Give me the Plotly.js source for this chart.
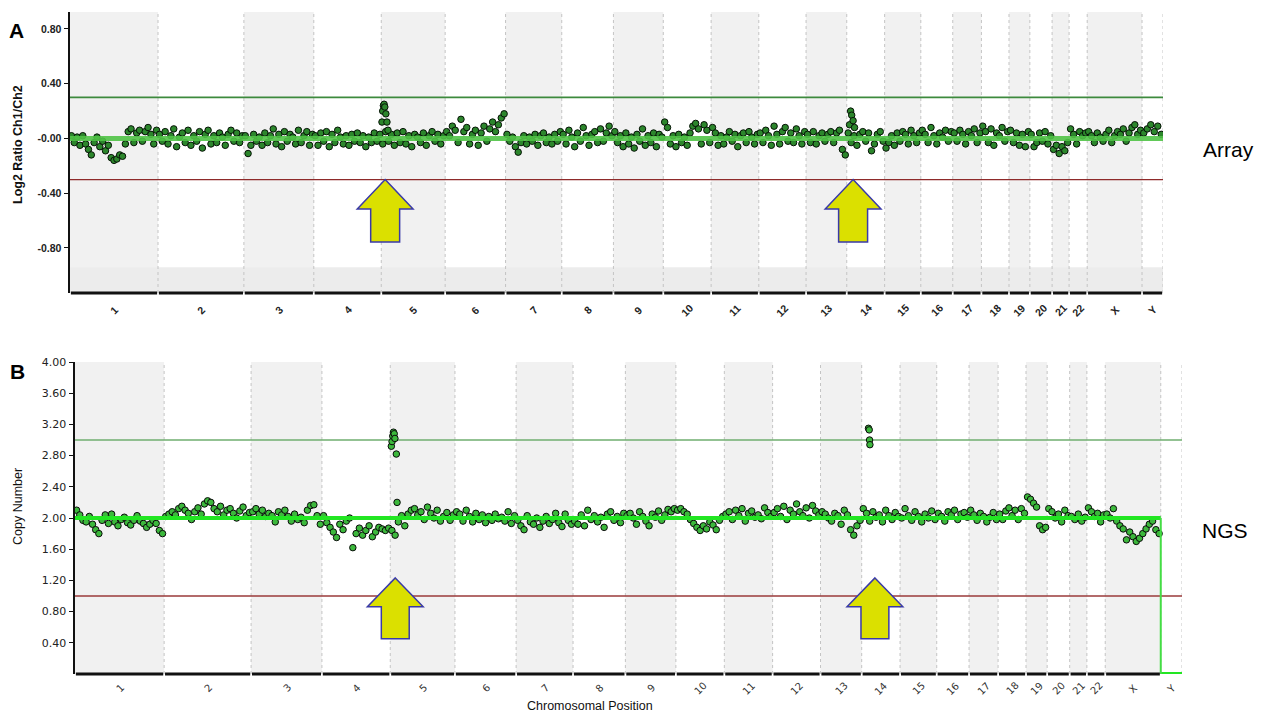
<!DOCTYPE html>
<html><head><meta charset="utf-8">
<script src="https://cdn.plot.ly/plotly-3.0.1.min.js"></script>
<style>html,body{margin:0;padding:0;background:#fff;} #chart{width:1265px;height:715px;}</style>
</head><body><div id="chart"></div>
<script>
// ---------- chromosomes ----------
const chrNames = ['1','2','3','4','5','6','7','8','9','10','11','12','13','14','15','16','17','18','19','20','21','22','X','Y'];
const chrLenMb = [249.25,243.2,198.0,191.15,180.9,171.1,159.1,146.4,141.2,135.5,135.0,133.9,115.2,107.3,102.5,90.4,81.2,78.1,59.1,63.0,48.1,51.3,155.3,59.4];

// ---------- Panel A: array log2 ratios (ordered probes per chromosome) ----------
const arr1 = [0.02,-0.03,0.01,-0.05,0.02,-0.04,-0.08,-0.12,-0.03,0.01,-0.06,-0.02,-0.09,-0.05,-0.14,-0.16,-0.15,-0.12,-0.13,-0.04,0.05,0.07,-0.03,0.04,0.06,-0.02,0.05,0.08,0.03,-0.04,0.06];
const arr2 = [0.03,-0.02,0.05,-0.04,0.02,0.07,-0.06,0.01,0.04,-0.03,0.06,-0.05,0.02,-0.02,0.05,-0.07,0.03,0.06,-0.04,0.02,-0.03,0.04,0.01,-0.05,0.03,0.06,-0.02,0.04,-0.03,0.02];
const arr3 = [0.02,-0.11,-0.05,0.03,-0.02,0.01,-0.05,0.04,-0.03,0.02,0.07,-0.04,0.03,-0.06,0.05,-0.02,0.03,0.01,-0.04,0.06,-0.03,0.02,0.05,-0.05,0.03];
const arr4 = [0.02,-0.05,0.04,-0.02,0.05,-0.06,0.03,-0.03,0.06,0.01,-0.04,0.02,-0.05,0.03,-0.02,0.04,-0.03,0.02,-0.06,0.01,-0.03,0.04,-0.02,0.03];
const arr5 = [-0.04,0.05,-0.02,0.03,-0.05,0.04,-0.03,0.05,-0.04,0.02,-0.06,0.03,0.01,-0.03,0.04,-0.05,0.02,0.05,-0.02,0.03,-0.04,0.02];
const arr6 = [0.05,0.02,0.09,0.06,-0.03,0.14,0.05,0.08,-0.04,0.03,0.06,-0.05,0.04,0.09,-0.02,0.07,0.12,0.05,0.10,0.15,0.18];
const arr7 = [0.03,-0.02,0.01,-0.06,-0.10,-0.03,0.02,-0.04,0.01,-0.02,0.03,-0.05,0.02,0.04,-0.03,0.01,-0.04,0.03,-0.02,0.05];
const arr8 = [0.03,-0.04,0.06,0.01,-0.06,0.04,-0.02,0.08,0.02,-0.05,0.03,0.05,-0.03,0.07,-0.02,0.04,0.09,0.02];
const arr9 = [0.05,-0.03,0.02,-0.06,0.04,-0.04,0.01,-0.07,0.03,-0.02,0.07,-0.05,0.02,-0.03,0.04,-0.06,0.03,0.01];
const arr10 = [0.12,0.08,-0.04,0.02,-0.06,0.03,-0.03,0.01,-0.05,0.04,0.09,0.11,0.07,-0.04,0.10,0.06,-0.03];
const arr11 = [0.08,0.04,-0.05,0.02,-0.04,0.01,0.05,-0.02,0.03,-0.06,0.02,0.04,-0.03,0.05,0.01,-0.04,0.03];
const arr12 = [0.04,-0.03,0.06,0.02,-0.05,0.09,0.03,-0.04,0.05,0.08,-0.02,0.04,-0.03,0.07,0.02,-0.04,0.05];
const arr13 = [0.03,-0.03,0.05,-0.04,0.02,0.04,-0.02,0.03,0.05,-0.03,0.04,0.06,-0.08,-0.12];
const arr14 = [0.04,-0.03,0.02,-0.05,0.03,0.05,-0.02,0.04,-0.09,-0.04,0.03,0.05,-0.02];
const arr15 = [-0.07,-0.03,0.02,-0.05,0.04,-0.02,0.05,0.03,-0.04,0.06,0.02,-0.03,0.04];
const arr16 = [0.06,0.03,-0.03,0.08,0.02,-0.04,0.04,0.01,0.06,-0.02,0.05];
const arr17 = [0.04,-0.02,0.06,0.03,-0.04,0.05,0.02,0.07,-0.03,0.04];
const arr18 = [0.09,0.05,-0.03,0.07,-0.05,0.04,0.02,0.08,-0.02,0.05];
const arr19 = [0.06,-0.03,0.04,-0.05,0.03,-0.06,0.05];
const arr20 = [0.03,-0.06,-0.03,0.04,-0.02,0.05,-0.04,0.02];
const arr21 = [-0.08,-0.05,-0.11,-0.06,-0.09,-0.03];
const arr22 = [0.07,0.03,-0.04,0.05,0.02,0.04];
const arrX = [0.05,0.02,-0.03,0.04,0.01,-0.02,0.03,0.06,-0.03,0.02,0.05,0.03,0.07,-0.02,0.04,0.08,0.10,0.03,0.06];
const arrY = [0.04,0.07,0.10,0.05,0.09,0.03];
// gained regions (position in Mb within chromosome, log2 ratio)
const arrGain5Pos = [2,4,6,8,10,13,16,19];
const arrGain5Val = [0.12,0.20,0.24,0.25,0.23,0.18,0.12,0.06];
const arrGain14Pos = [8,11,14,18,22];
const arrGain14Val = [0.10,0.20,0.17,0.13,0.08];
const arraySegVal = 0;
const arrayGainThr = 0.30, arrayLossThr = -0.30;

// ---------- Panel B: NGS copy number (ordered bins per chromosome) ----------
const ngs1 = [2.10,2.04,1.97,1.95,2.02,1.92,1.85,1.80,1.97,2.04,1.93,2.05,1.95,1.90,1.98,2.01,1.94,1.91,1.97,2.03,1.96,1.93,1.88,1.92,1.97,1.93,1.84,1.80];
const ngs2 = [2.02,2.05,2.08,2.04,2.12,2.15,2.10,2.06,1.98,2.08,2.13,2.05,2.18,2.22,2.20,2.12,2.08,2.15,2.04,2.10,2.12,2.06,2.00,2.09,2.14,2.03,2.07];
const ngs3 = [2.08,2.12,2.05,2.10,2.02,2.06,2.03,1.95,2.08,2.04,2.10,2.02,1.96,2.05,1.98,2.01,1.94,2.10,2.16,2.17,2.03,1.92];
const ngs4 = [2.03,1.94,1.88,1.82,1.75,1.92,1.85,1.96,2.00,1.62,1.80,1.87,1.78,1.84,1.90,1.76,1.82,1.88,1.86,1.84,1.87];
const ngs5 = [1.84,1.78,1.95,2.03,1.90,2.05,2.10,2.12,2.04,2.08,1.98,2.14,2.06,2.00,2.10,1.96,2.02,2.07,1.97,2.04];
const ngs6 = [2.08,2.05,1.96,2.10,2.02,1.95,2.06,1.98,2.04,1.94,2.02,1.97,2.05,1.99,2.01,1.96,2.08,1.93,2.03];
const ngs7 = [1.97,1.90,1.85,2.03,1.95,1.92,2.00,1.88,1.96,2.02,1.93,1.98,2.06,1.94,1.89,2.05,1.97,1.92];
const ngs8 = [1.96,1.92,2.04,1.90,2.10,1.98,2.03,1.95,2.01,1.88,2.05,2.08,1.97,2.02,1.94,2.06];
const ngs9 = [2.03,2.06,2.00,1.92,2.08,2.02,1.96,1.90,2.05,2.01,2.09,1.97,2.04,2.11,2.08,2.12];
const ngs10 = [2.10,2.12,2.08,2.05,1.98,1.93,1.88,1.84,1.90,1.86,1.95,1.91,1.85,1.97,2.02];
const ngs11 = [2.05,2.08,1.98,2.10,2.03,2.12,1.96,2.06,2.09,2.01,2.04,1.99,2.13,2.07,2.02];
const ngs12 = [2.07,2.12,2.02,2.15,1.98,2.10,2.05,2.18,2.08,2.03,2.13,2.00,2.16,2.09,2.04];
const ngs13 = [2.08,2.05,2.00,1.96,2.06,2.03,1.92,2.10,2.04,1.85,1.78,1.90,1.97];
const ngs14 = [2.12,2.06,1.96,2.08,2.01,2.04,1.95,2.10,2.03,1.98,2.07,2.02];
const ngs15 = [2.00,2.12,2.03,1.97,2.08,2.02,1.95,2.05,2.00,2.09,1.98];
const ngs16 = [2.06,2.02,1.96,2.08,2.04,2.10,1.98,2.05,2.07,2.01];
const ngs17 = [2.10,2.04,1.97,2.06,2.02,1.95,2.01,2.07,1.98];
const ngs18 = [2.05,1.98,2.09,2.13,2.03,2.10,1.98,2.12,2.06];
const ngs19 = [2.27,2.24,2.19,2.14,1.90,1.85,1.88];
const ngs20 = [2.12,2.08,2.00,2.05,1.95,2.10,2.03];
const ngs21 = [2.02,1.98,2.05,1.96,2.01];
const ngs22 = [2.13,2.08,2.02,2.06,1.95,2.04];
const ngsX = [2.05,2.00,2.12,1.96,1.90,1.86,1.72,1.82,1.76,1.70,1.74,1.80,1.86,1.92,1.96,1.85,1.80];
const ngsY = [];
const ngsGain5Pos = [3,5,7,9,11,13,17,19];
const ngsGain5Val = [2.92,2.98,3.05,3.10,3.08,3.02,2.82,2.20];
const ngsGain14Pos = [19,21,22,23];
const ngsGain14Val = [3.15,3.13,3.00,2.94];
const ngsSegVal = [2,2,2,2,2,2,2,2,2,2,2,2,2,2,2,2,2,2,2,2,2,2,2,0];
const ngsGainThr = 3.0, ngsLossThr = 1.0;

const arrayTickVals = [0.8,0.4,0,-0.4,-0.8];
const arrayTickText = ['0.80','0.40','-0.00','-0.40','-0.80'];
const ngsTickVals = [4.0,3.6,3.2,2.8,2.4,2.0,1.6,1.2,0.8,0.4];

// ---------- build ----------
const arrayByChr = [arr1,arr2,arr3,arr4,arr5,arr6,arr7,arr8,arr9,arr10,arr11,arr12,arr13,arr14,arr15,arr16,arr17,arr18,arr19,arr20,arr21,arr22,arrX,arrY];
const ngsByChr = [ngs1,ngs2,ngs3,ngs4,ngs5,ngs6,ngs7,ngs8,ngs9,ngs10,ngs11,ngs12,ngs13,ngs14,ngs15,ngs16,ngs17,ngs18,ngs19,ngs20,ngs21,ngs22,ngsX,ngsY];
const chrStart = []; let acc = 0;
chrLenMb.forEach(l => { chrStart.push(acc); acc += l; });
const G = acc;
const chrEnd = chrStart.map((s,i)=>s+chrLenMb[i]);
const chrMid = chrStart.map((s,i)=>s+chrLenMb[i]/2);
const i5 = chrNames.indexOf('5'), i14 = chrNames.indexOf('14');

function binned(byChr){
  const x=[], y=[];
  byChr.forEach((vals,c)=>{ vals.forEach((v,i)=>{ x.push(chrStart[c]+(i+0.5)/vals.length*chrLenMb[c]); y.push(v); }); });
  return {x,y};
}
const A = binned(arrayByChr);
arrGain5Pos.forEach((p,i)=>{A.x.push(chrStart[i5]+p);A.y.push(arrGain5Val[i]);});
arrGain14Pos.forEach((p,i)=>{A.x.push(chrStart[i14]+p);A.y.push(arrGain14Val[i]);});
const B = binned(ngsByChr);
ngsGain5Pos.forEach((p,i)=>{B.x.push(chrStart[i5]+p);B.y.push(ngsGain5Val[i]);});
ngsGain14Pos.forEach((p,i)=>{B.x.push(chrStart[i14]+p);B.y.push(ngsGain14Val[i]);});

const traces = [];
// Panel A
traces.push({x:A.x,y:A.y,xaxis:'x',yaxis:'y',type:'scatter',mode:'markers',hoverinfo:'skip',
  marker:{size:6.5,color:'#2c862c',line:{color:'#061206',width:1}}});
traces.push({x:[0,G],y:[arraySegVal,arraySegVal],xaxis:'x',yaxis:'y',mode:'lines',hoverinfo:'skip',
  line:{color:'rgba(80,195,70,0.9)',width:5}});
// Panel B
traces.push({x:B.x,y:B.y,xaxis:'x2',yaxis:'y2',type:'scatter',mode:'markers',hoverinfo:'skip',
  marker:{size:6.5,color:'#3cb83c',line:{color:'#0a0a0a',width:1}}});
// NGS segments: merge consecutive chromosomes with equal value
let segs=[]; ngsSegVal.forEach((v,c)=>{ if(segs.length && segs[segs.length-1].v===v){segs[segs.length-1].e=chrEnd[c];} else segs.push({s:chrStart[c],e:chrEnd[c],v}); });
segs.forEach((sg,k)=>{
  traces.push({x:[sg.s,sg.e],y:[sg.v,sg.v],xaxis:'x2',yaxis:'y2',mode:'lines',hoverinfo:'skip',line:{color:'#22e622',width:4},cliponaxis:false});
  if(k>0) traces.push({x:[sg.s,sg.s],y:[segs[k-1].v,sg.v],xaxis:'x2',yaxis:'y2',mode:'lines',hoverinfo:'skip',line:{color:'#44dd44',width:2}});
});

const shapes = [];
function panelShapes(xr,yr,gain,loss,gainCol,lossCol,yrange,extraBand,segVals){
  chrStart.forEach((s,c)=>{
    if(c%2===0) shapes.push({type:'rect',xref:xr,yref:yr+' domain',x0:s,x1:chrEnd[c],y0:0,y1:1,fillcolor:'#f1f1f1',line:{width:0},layer:'below'});
  });
  if(extraBand) shapes.push({type:'rect',xref:xr+' domain',yref:yr,x0:0,x1:1,y0:yrange[0],y1:extraBand,fillcolor:'#ececec',line:{width:0},layer:'below'});
  chrEnd.forEach((e,c)=>{
    shapes.push({type:'line',xref:xr,yref:yr+' domain',x0:e,x1:e,y0:0,y1:1,line:{color:'#c4c4c4',width:1,dash:'dot'},layer:'below'});
  });
  shapes.push({type:'line',xref:xr+' domain',yref:yr,x0:0,x1:1,y0:gain,y1:gain,line:{color:gainCol,width:1.6},layer:'below'});
  shapes.push({type:'line',xref:xr+' domain',yref:yr,x0:0,x1:1,y0:loss,y1:loss,line:{color:lossCol,width:1.3},layer:'below'});
  chrStart.forEach((s,c)=>{
    if(segVals && segVals[c]===0) return; // segment line lies on the axis here
    shapes.push({type:'line',xref:xr,yref:yr+' domain',x0:s+2.5,x1:chrEnd[c]-2.5,y0:0,y1:0,line:{color:'#111',width:3}});
  });
}
panelShapes('x','y',arrayGainThr,arrayLossThr,'#3d8a3d','#8e2a2a',[-1.129,0.924],-0.94,null);
panelShapes('x2','y2',ngsGainThr,ngsLossThr,'#6fae6f','#9a3a3a',[0,4],null,ngsSegVal);

function arrow(xr,yr,tip,tipY,baseY,botY,hw,sw){
  const p = `M ${tip},${tipY} L ${tip+hw},${baseY} L ${tip+sw},${baseY} L ${tip+sw},${botY} L ${tip-sw},${botY} L ${tip-sw},${baseY} L ${tip-hw},${baseY} Z`;
  shapes.push({type:'path',xref:xr,yref:yr,path:p,fillcolor:'#dbe000',line:{color:'#3a3aa8',width:1.5}});
}
arrow('x','y',chrStart[i5]+11,-0.30,-0.515,-0.756,79,41);
arrow('x','y',chrStart[i14]+18,-0.30,-0.515,-0.756,79,41);
arrow('x2','y2',chrStart[i5]+14,1.232,0.861,0.451,78,39);
arrow('x2','y2',chrStart[i14]+37,1.232,0.861,0.451,78,39);

const W=1265,H=715;
const ann = [];
const C = {xanchor:'center',yanchor:'middle',showarrow:false};
chrNames.forEach((n,c)=>{
  ann.push(Object.assign({text:n,xref:'x',yref:'paper',x:chrMid[c],y:1-310/H,textangle:-45,
    font:{family:'Arial, Liberation Sans',size:10.5,weight:'bold',color:'#222'}},C));
  ann.push(Object.assign({text:n,xref:'x2',yref:'paper',x:chrMid[c],y:1-688/H,textangle:-45,
    font:{family:'DejaVu Sans',size:10,color:'#333'}},C));
});
ann.push(Object.assign({text:'<b>A</b>',xref:'paper',yref:'paper',x:16/W,y:1-30/H,font:{family:'Arial, Liberation Sans',size:21,color:'#000'}},C));
ann.push(Object.assign({text:'<b>B</b>',xref:'paper',yref:'paper',x:17/W,y:1-371/H,font:{family:'Arial, Liberation Sans',size:21,color:'#000'}},C));
ann.push(Object.assign({text:'Array',xref:'paper',yref:'paper',x:1228/W,y:1-149/H,font:{family:'Arial, Liberation Sans',size:21,color:'#000'}},C));
ann.push(Object.assign({text:'NGS',xref:'paper',yref:'paper',x:1225/W,y:1-530/H,font:{family:'Arial, Liberation Sans',size:21,color:'#000'}},C));
ann.push(Object.assign({text:'<b>Log2 Ratio Ch1/Ch2</b>',xref:'paper',yref:'paper',x:18/W,y:1-145/H,textangle:-90,font:{family:'Arial, Liberation Sans',size:12.5,color:'#111'}},C));
ann.push(Object.assign({text:'Copy Number',xref:'paper',yref:'paper',x:18/W,y:1-507/H,textangle:-90,font:{family:'Arial, Liberation Sans',size:12.5,color:'#111'}},C));
ann.push(Object.assign({text:'Chromosomal Position',xref:'paper',yref:'paper',x:590/W,y:1-706/H,font:{family:'Arial, Liberation Sans',size:12.5,color:'#111'}},C));

const layout = {
  width:W,height:H,margin:{l:0,r:0,t:0,b:0},paper_bgcolor:'#fff',plot_bgcolor:'rgba(0,0,0,0)',showlegend:false,
  xaxis:{domain:[70/W,1163/W],range:[0,G],anchor:'y',showgrid:false,zeroline:false,showticklabels:false,ticks:'',showline:false,fixedrange:true},
  yaxis:{domain:[(H-293)/H,(H-12)/H],range:[-1.129,0.924],anchor:'x',tickvals:arrayTickVals,ticktext:arrayTickText,ticks:'outside',ticklen:4,tickcolor:'#111',
    showline:true,linecolor:'#111',linewidth:2.5,showgrid:false,zeroline:false,tickfont:{family:'Arial, Liberation Sans',size:10.5,weight:'bold',color:'#222'},fixedrange:true},
  xaxis2:{domain:[75/W,1182/W],range:[0,G],anchor:'y2',showgrid:false,zeroline:false,showticklabels:false,ticks:'',showline:false,fixedrange:true},
  yaxis2:{domain:[(H-674)/H,(H-362)/H],range:[0,4],anchor:'x2',tickvals:ngsTickVals,ticktext:ngsTickVals.map(v=>v.toFixed(2)),ticks:'outside',ticklen:4,tickcolor:'#111',
    showline:true,linecolor:'#111',linewidth:2.5,showgrid:false,zeroline:false,tickfont:{family:'DejaVu Sans',size:11,color:'#222'},fixedrange:true},
  shapes:shapes,annotations:ann
};
Plotly.newPlot('chart',traces,layout,{displayModeBar:false,staticPlot:true});
</script></body></html>
